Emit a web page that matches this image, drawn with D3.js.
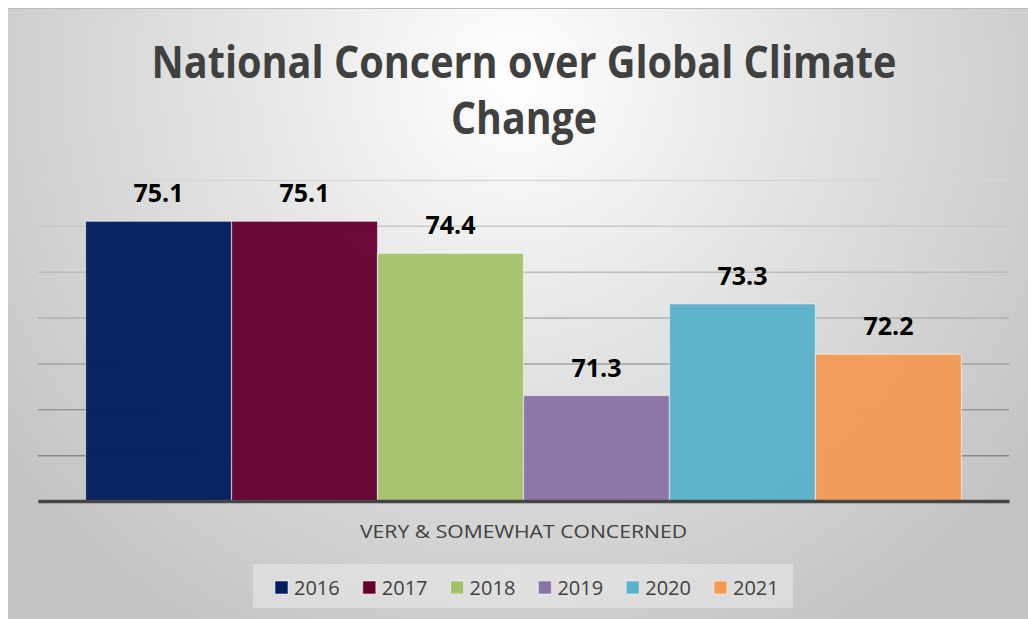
<!DOCTYPE html>
<html>
<head>
<meta charset="utf-8">
<script src="https://cdn.jsdelivr.net/npm/d3@7"></script>
<style>
  html, body { margin: 0; padding: 0; background: #ffffff; }
  svg { display: block; }
</style>
</head>
<body>
<svg id="chart" width="1028" height="619"></svg>
<script>
// ---- data ----
const categories = ["VERY & SOMEWHAT CONCERNED"];
const years = ["2016", "2017", "2018", "2019", "2020", "2021"];
const values = [75.1, 75.1, 74.4, 71.3, 73.3, 72.2];
const yearColors = ["#001e5e", "#630030", "#a4c26b", "#8a71a8", "#5ab2ca", "#f39b54"];
const yDomain = [69, 76];
const titleLines = ["National Concern over Global Climate", "Change"];

// ---- layout ----
const W = 1028, H = 619;
const plot = { left: 38, right: 1009, top: 180, bottom: 501 };

const svg = d3.select("#chart");
const defs = svg.append("defs");

const bg = defs.append("radialGradient")
  .attr("id", "bgGrad").attr("gradientUnits", "userSpaceOnUse")
  .attr("cx", 514).attr("cy", 80).attr("r", 640);
bg.append("stop").attr("offset", 0).attr("stop-color", "#ffffff");
bg.append("stop").attr("offset", 0.45).attr("stop-color", "#e3e3e3");
bg.append("stop").attr("offset", 1).attr("stop-color", "#c3c3c3");

// chart area frame
svg.append("rect").attr("x", 8).attr("y", 8).attr("width", W - 8).attr("height", H - 8)
  .attr("fill", "url(#bgGrad)");
svg.append("line").attr("x1", 8).attr("x2", W).attr("y1", 8.5).attr("y2", 8.5)
  .attr("stroke", "#bcbcbc").attr("stroke-width", 1);

// title
const title = svg.append("g").attr("font-family", "'Open Sans', sans-serif")
  .attr("font-weight", 700).attr("fill", "#404040").attr("text-anchor", "middle");
title.append("text").attr("x", 524).attr("y", 78).attr("font-size", 44)
  .attr("textLength", 745).attr("lengthAdjust", "spacingAndGlyphs").text(titleLines[0]);
title.append("text").attr("x", 524).attr("y", 134).attr("font-size", 44)
  .attr("textLength", 146).attr("lengthAdjust", "spacingAndGlyphs").text(titleLines[1]);

// scales
const x0 = d3.scaleBand().domain(categories).range([plot.left, plot.right]).paddingOuter(0.0543).paddingInner(0);
const x1 = d3.scaleBand().domain(years).range([0, x0.bandwidth()]);
const y = d3.scaleLinear().domain(yDomain).range([plot.bottom, plot.top]);

// gridlines (shade darkens towards the bottom)
const gridShade = d3.scaleLinear().domain([plot.top, plot.bottom - 46]).range(["#d6d6d6", "#888888"]);
const grid = svg.append("g").attr("transform", `translate(${plot.left},0)`)
  .call(d3.axisLeft(y).ticks(7).tickSize(-(plot.right - plot.left)).tickFormat(""));
grid.select(".domain").remove();
grid.selectAll(".tick line")
  .attr("stroke", d => gridShade(y(d))).attr("stroke-width", 1.5);

// bars
const gCat = svg.append("g").selectAll("g").data(categories).join("g")
  .attr("transform", d => `translate(${x0(d)},0)`);
gCat.selectAll("rect").data(years.map((yr, i) => ({ yr, v: values[i], c: yearColors[i] })))
  .join("rect")
  .attr("x", d => x1(d.yr)).attr("width", x1.bandwidth())
  .attr("y", d => y(d.v)).attr("height", d => plot.bottom - y(d.v))
  .attr("fill", d => d.c).attr("fill-opacity", 0.96)
  .attr("stroke", "#ffffff").attr("stroke-opacity", 0.5).attr("stroke-width", 1.2);

// data labels
gCat.selectAll("text").data(years.map((yr, i) => ({ yr, v: values[i] })))
  .join("text")
  .attr("x", d => x1(d.yr) + x1.bandwidth() / 2).attr("y", d => y(d.v) - 19)
  .attr("text-anchor", "middle").attr("font-family", "'Open Sans', sans-serif")
  .attr("font-weight", 700).attr("font-size", 25).attr("fill", "#000000")
  .text(d => d3.format(".1f")(d.v));

// baseline axis
const xAxis = svg.append("g").attr("transform", `translate(0,${plot.bottom})`)
  .call(d3.axisBottom(x0).tickSize(0).tickPadding(24));
xAxis.select(".domain").attr("stroke", "#454545").attr("stroke-width", 3.5);
xAxis.selectAll("text").attr("font-family", "'Open Sans', sans-serif").attr("font-size", 19)
  .attr("fill", "#404040").attr("textLength", 327).attr("lengthAdjust", "spacingAndGlyphs");

// legend
const legend = svg.append("g");
legend.append("rect").attr("x", 253).attr("y", 564).attr("width", 540).attr("height", 44)
  .attr("fill", "#f2f2f2").attr("fill-opacity", 0.45);
const legendX = d3.scalePoint().domain(years).range([275, 714]);
const li = legend.selectAll("g.item").data(years.map((yr, i) => ({ yr, c: yearColors[i] })))
  .join("g").attr("class", "item").attr("transform", d => `translate(${legendX(d.yr)},588)`);
li.append("rect").attr("x", 0).attr("y", -7).attr("width", 13).attr("height", 13)
  .attr("fill", d => d.c).attr("stroke", "#ffffff").attr("stroke-opacity", 0.5);
li.append("text").attr("x", 19).attr("y", 7).attr("font-family", "'Open Sans', sans-serif")
  .attr("font-size", 20).attr("fill", "#404040").text(d => d.yr);
</script>
</body>
</html>
